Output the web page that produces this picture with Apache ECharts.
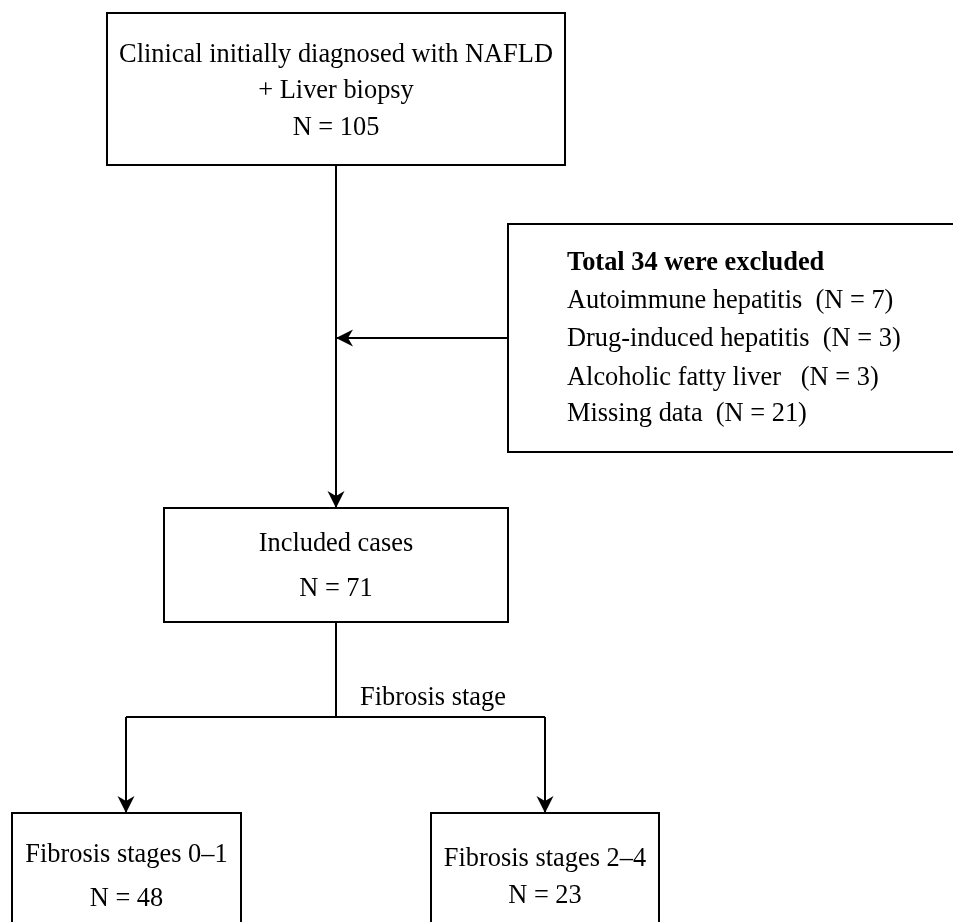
<!DOCTYPE html>
<html><head><meta charset="utf-8">
<script src="https://cdn.jsdelivr.net/npm/echarts@6/dist/echarts.min.js"></script>
<style>html,body{margin:0;padding:0;background:#fff}#c{width:953px;height:922px}</style>
</head><body><div id="c"></div>
<script>
// ---- data ----
const stageTitles = ['Clinical initially diagnosed with NAFLD', 'Included cases', 'Fibrosis stages 0–1', 'Fibrosis stages 2–4'];
const stageSubtitle = ['+ Liver biopsy', null, null, null];
const stageCounts = [105, 71, 48, 23];
const excludedTotal = 34;
const exclusionReasons = ['Autoimmune hepatitis', 'Drug-induced hepatitis', 'Alcoholic fatty liver', 'Missing data'];
const exclusionCounts = [7, 3, 3, 21];
const branchLabel = 'Fibrosis stage';

// ---- layout (pixel-space axis units) ----
const stageBoxes = [
  {x0: 107, y0: 13, x1: 565, y1: 165, lineY: [55, 91, 128]},
  {x0: 164, y0: 508, x1: 508, y1: 622, lineY: [544, 589]},
  {x0: 12, y0: 813, x1: 241, y1: 940, lineY: [855, 899]},
  {x0: 431, y0: 813, x1: 659, y1: 940, lineY: [859, 896]}
];
const excludedBox = {x0: 508, y0: 224, x1: 965, y1: 452, textX: 567, lineY: [263, 301, 339, 378, 414]};
const reasonGaps = ['  ', '  ', '   ', '  '];
const connectors = [
  {pts: [[336, 165], [336, 508]], arrow: true},
  {pts: [[508, 338], [336, 338]], arrow: true},
  {pts: [[336, 622], [336, 717]], arrow: false},
  {pts: [[126, 717], [545, 717]], arrow: false},
  {pts: [[126, 717], [126, 813]], arrow: true},
  {pts: [[545, 717], [545, 813]], arrow: true}
];
const branchLabelPos = [360, 698];

const FONT = '"Liberation Serif", "Times New Roman", serif';
const FS = 26.4;
const TEXT_SCALE_Y = 1.05;

function txt(api, x, y, s, align, bold) {
  const p = api.coord([x, y]);
  return {
    type: 'text', x: p[0], y: p[1], scaleY: TEXT_SCALE_Y,
    style: {
      text: s, fontSize: FS, fontFamily: FONT, fontWeight: bold ? 'bold' : 'normal',
      fill: '#000', textAlign: align, textVerticalAlign: 'middle', align: align, verticalAlign: 'middle'
    }
  };
}
function rect(api, b) {
  const a = api.coord([b.x0, b.y0]), c = api.coord([b.x1, b.y1]);
  return {
    type: 'rect',
    shape: {x: a[0], y: a[1], width: c[0] - a[0], height: c[1] - a[1]},
    style: {fill: '#fff', stroke: '#000', lineWidth: 2}
  };
}

const chart = echarts.init(document.getElementById('c'), null, {renderer: 'canvas'});
chart.setOption({
  backgroundColor: '#fff',
  animation: false,
  grid: {left: 0, right: 0, top: 0, bottom: 0},
  xAxis: {type: 'value', min: 0, max: 953, show: false},
  yAxis: {type: 'value', min: 0, max: 922, inverse: true, show: false},
  series: [
    {
      type: 'custom', coordinateSystem: 'cartesian2d', clip: false, silent: true,
      data: stageTitles.map((t, i) => [i, 0]),
      renderItem: function (params, api) {
        const i = params.dataIndex;
        const b = stageBoxes[i];
        const cx = (b.x0 + b.x1) / 2;
        const children = [rect(api, b)];
        const lines = [stageTitles[i]];
        if (stageSubtitle[i]) lines.push(stageSubtitle[i]);
        lines.push('N = ' + stageCounts[i]);
        lines.forEach((s, k) => children.push(txt(api, cx, b.lineY[k], s, 'center', false)));
        return {type: 'group', children: children};
      }
    },
    {
      type: 'custom', coordinateSystem: 'cartesian2d', clip: false, silent: true,
      data: [[0, 0]],
      renderItem: function (params, api) {
        const b = excludedBox;
        const children = [rect(api, b)];
        children.push(txt(api, b.textX, b.lineY[0], 'Total ' + excludedTotal + ' were excluded', 'left', true));
        exclusionReasons.forEach((r, k) => {
          children.push(txt(api, b.textX, b.lineY[k + 1], r + reasonGaps[k] + '(N = ' + exclusionCounts[k] + ')', 'left', false));
        });
        children.push(txt(api, branchLabelPos[0], branchLabelPos[1], branchLabel, 'left', false));
        return {type: 'group', children: children};
      }
    },
    {
      type: 'custom', coordinateSystem: 'cartesian2d', clip: false, silent: true,
      data: connectors.map((c, i) => [i, 0]),
      renderItem: function (params, api) {
        const c = connectors[params.dataIndex];
        const pts = c.pts.map(p => api.coord(p));
        const children = [{
          type: 'polyline', shape: {points: pts},
          style: {stroke: '#000', lineWidth: 2, fill: null}
        }];
        if (c.arrow) {
          const e = pts[pts.length - 1], s = pts[pts.length - 2];
          const dx = e[0] - s[0], dy = e[1] - s[1];
          const L = Math.sqrt(dx * dx + dy * dy);
          const ux = dx / L, uy = dy / L, nx = -uy, ny = ux;
          const len = 17, hw = 8.5, notch = 12;
          children.push({
            type: 'polygon',
            shape: {points: [
              [e[0], e[1]],
              [e[0] - ux * len + nx * hw, e[1] - uy * len + ny * hw],
              [e[0] - ux * notch, e[1] - uy * notch],
              [e[0] - ux * len - nx * hw, e[1] - uy * len - ny * hw]
            ]},
            style: {fill: '#000', stroke: null}
          });
        }
        return {type: 'group', children: children};
      }
    }
  ]
});
</script>
</body></html>
